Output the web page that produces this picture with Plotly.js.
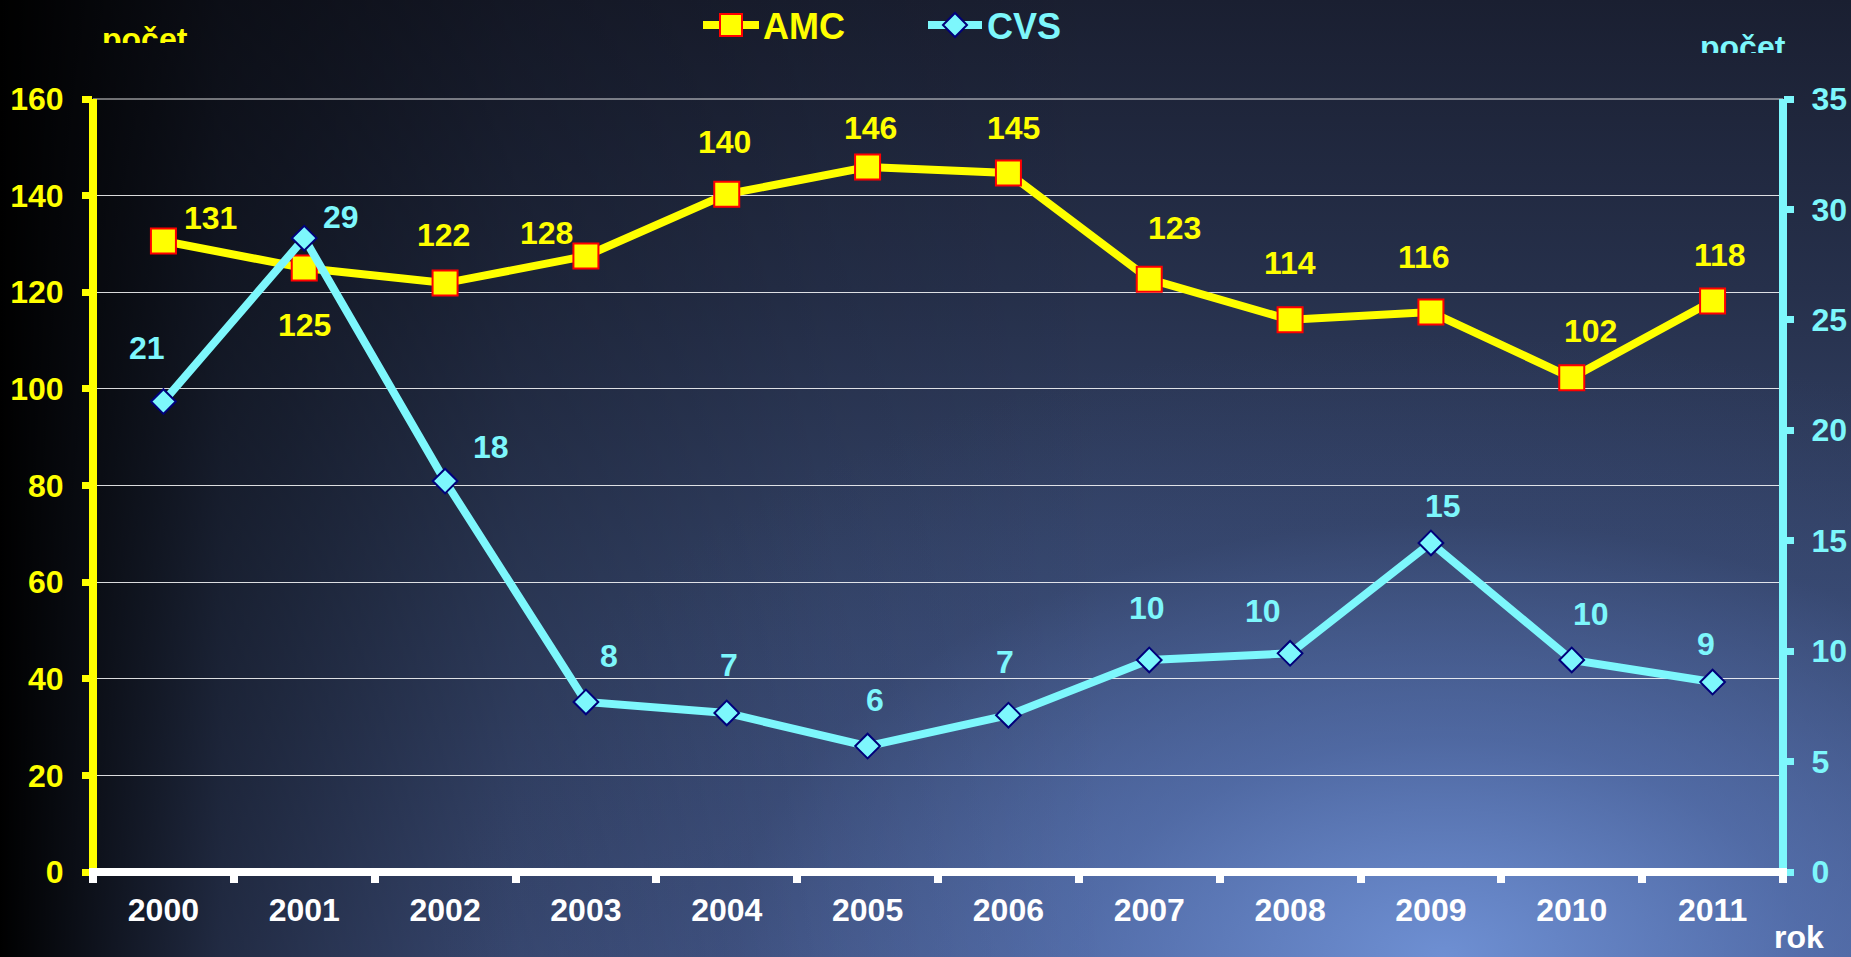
<!DOCTYPE html>
<html>
<head>
<meta charset="utf-8">
<script src="https://cdn.plot.ly/plotly-3.0.1.min.js"></script>
<style>
  html, body { margin: 0; padding: 0; width: 1851px; height: 957px; overflow: hidden; }
  .bg {
    background-image:
      linear-gradient(to right, rgba(0,0,0,1) 0%, rgba(0,0,0,0.55) 12%, rgba(0,0,0,0.25) 28%, rgba(0,0,0,0.08) 45%, rgba(0,0,0,0) 60%),
      radial-gradient(ellipse 55% 65% at 78% 100%, rgba(112,146,214,0.95) 0%, rgba(90,120,185,0.6) 35%, rgba(60,80,130,0.2) 70%, rgba(0,0,0,0) 100%),
      linear-gradient(to bottom, #1a1f31 0%, #26304b 30%, #36466c 60%, #4a5f95 100%);
    background-attachment: fixed;
    background-repeat: no-repeat;
    background-size: 1851px 957px;
  }
  #chart { position: absolute; left: 0; top: 0; width: 1851px; height: 957px; }
  .mask { position: absolute; z-index: 10; }
</style>
</head>
<body class="bg">
<div id="chart"></div>
<div class="mask bg" style="left:95px; top:43px; width:110px; height:30px;"></div>
<div class="mask bg" style="left:1695px; top:53px; width:100px; height:30px;"></div>
<script>
// ---- data ----
const years = ['2000','2001','2002','2003','2004','2005','2006','2007','2008','2009','2010','2011'];
const amcValues = [130.6, 125.0, 121.9, 127.5, 140.3, 145.9, 144.7, 122.7, 114.3, 115.9, 102.3, 118.2];
const cvsValues = [21.3, 28.7, 17.7, 7.7, 7.2, 5.7, 7.1, 9.6, 9.9, 14.9, 9.6, 8.6];
const leftTickVals = [0, 20, 40, 60, 80, 100, 120, 140, 160];
const rightTickVals = [0, 5, 10, 15, 20, 25, 30, 35];
const seriesNames = ['AMC', 'CVS'];
const leftAxisTitle = 'počet';
const rightAxisTitle = 'počet';
const xAxisTitle = 'rok';

// label offsets in pixels (dx right, dy down) relative to each marker
const amcLabelDx = [47, 0, -2, -39, -2, 3, 5, 25, 0, -7, 19, 7];
const amcLabelDy = [-23, 57, -48, -23, -52, -39, -45, -51, -57, -55, -47, -46];
const cvsLabelDx = [-16, 37, 46, 23, 2, 7, -3, -2, -27, 12, 19, -7];
const cvsLabelDy = [-54, -21, -34, -46, -48, -46, -53, -52, -42, -37, -46, -38];

// ---- geometry / styles ----
const W = 1851, H = 957;
const M = { l: 93, r: 68, t: 99, b: 85 };
const PW = W - M.l - M.r, PH = H - M.t - M.b;
const fx = (px) => (px - M.l) / PW;          // page px -> paper x
const fy = (py) => (M.t + PH - py) / PH;     // page px -> paper y

const FONT = 'Liberation Sans, Arial, Helvetica, sans-serif';
const YELLOW = '#ffff00';
const CYAN = '#7df7fc';
const WHITE = '#ffffff';
const RED = '#ff0000';
const NAVY = '#00007a';

const traces = [
  {
    x: years, y: amcValues, name: seriesNames[0],
    type: 'scatter', mode: 'lines+markers', xaxis: 'x', yaxis: 'y',
    line: { color: YELLOW, width: 8 },
    marker: { symbol: 'square', size: 25, color: YELLOW, line: { color: RED, width: 2 } },
    hoverinfo: 'skip', showlegend: false
  },
  {
    x: years, y: cvsValues, name: seriesNames[1],
    type: 'scatter', mode: 'lines+markers', xaxis: 'x', yaxis: 'y2',
    line: { color: CYAN, width: 8 },
    marker: { symbol: 'diamond', size: 19, color: CYAN, line: { color: NAVY, width: 2 } },
    hoverinfo: 'skip', showlegend: false
  }
];

const annotations = [];
years.forEach((yr, i) => {
  annotations.push({
    x: i, y: amcValues[i], xref: 'x', yref: 'y', text: String(Math.round(amcValues[i])),
    showarrow: false, xanchor: 'center', yanchor: 'middle',
    xshift: amcLabelDx[i], yshift: -amcLabelDy[i],
    font: { family: FONT, size: 32, color: YELLOW, weight: 'bold' }
  });
  annotations.push({
    x: i, y: cvsValues[i], xref: 'x', yref: 'y2', text: String(Math.round(cvsValues[i])),
    showarrow: false, xanchor: 'center', yanchor: 'middle',
    xshift: cvsLabelDx[i], yshift: -cvsLabelDy[i],
    font: { family: FONT, size: 32, color: CYAN, weight: 'bold' }
  });
});
annotations.push({
  text: leftAxisTitle, xref: 'paper', yref: 'paper', x: fx(145), y: fy(39),
  xanchor: 'center', yanchor: 'middle', showarrow: false,
  font: { family: FONT, size: 32, color: YELLOW, weight: 'bold' }
});
annotations.push({
  text: rightAxisTitle, xref: 'paper', yref: 'paper', x: fx(1743), y: fy(47),
  xanchor: 'center', yanchor: 'middle', showarrow: false,
  font: { family: FONT, size: 32, color: CYAN, weight: 'bold' }
});
annotations.push({
  text: xAxisTitle, xref: 'paper', yref: 'paper', x: fx(1799), y: fy(937),
  xanchor: 'center', yanchor: 'middle', showarrow: false, borderpad: 0,
  font: { family: FONT, size: 32, color: WHITE, weight: 'bold' }
});
// legend texts
annotations.push({
  text: seriesNames[0], xref: 'paper', yref: 'paper', x: fx(761), y: fy(26),
  xanchor: 'left', yanchor: 'middle', showarrow: false,
  font: { family: FONT, size: 36, color: YELLOW, weight: 'bold' }
});
annotations.push({
  text: seriesNames[1], xref: 'paper', yref: 'paper', x: fx(985), y: fy(26),
  xanchor: 'left', yanchor: 'middle', showarrow: false,
  font: { family: FONT, size: 36, color: CYAN, weight: 'bold' }
});

const tickFont = (c) => ({ family: FONT, size: 32, color: c, weight: 'bold' });

const P = (x, y) => fx(x) + ',' + fy(y);
const shapes = [
  // gridline at the top of the range (Plotly drops gridlines at the plot edge)
  { type: 'line', xref: 'paper', yref: 'paper', x0: 0, x1: 1, y0: 1, y1: 1, line: { color: 'rgba(255,255,255,0.85)', width: 1 } },
  // axis lines
  { type: 'line', xref: 'paper', yref: 'paper', x0: 0, x1: 0, y0: 0, y1: 1, line: { color: YELLOW, width: 8 } },
  { type: 'line', xref: 'paper', yref: 'paper', x0: 1, x1: 1, y0: 0, y1: 1, line: { color: CYAN, width: 8 } },
  { type: 'line', xref: 'paper', yref: 'paper', x0: fx(89), x1: fx(1787), y0: 0, y1: 0, line: { color: WHITE, width: 8 } },
  // legend symbols
  { type: 'line', xref: 'paper', yref: 'paper', x0: fx(703), x1: fx(759), y0: fy(25), y1: fy(25), line: { color: YELLOW, width: 8 } },
  { type: 'rect', xref: 'paper', yref: 'paper', x0: fx(720), x1: fx(742), y0: fy(14), y1: fy(36), fillcolor: YELLOW, line: { color: RED, width: 2 } },
  { type: 'line', xref: 'paper', yref: 'paper', x0: fx(928), x1: fx(982), y0: fy(25), y1: fy(25), line: { color: CYAN, width: 8 } },
  { type: 'path', xref: 'paper', yref: 'paper', path: 'M' + P(943, 25) + 'L' + P(955, 13) + 'L' + P(967, 25) + 'L' + P(955, 37) + 'Z',
    fillcolor: CYAN, line: { color: NAVY, width: 2 } }
];

const layout = {
  width: W, height: H,
  margin: { l: M.l, r: M.r, t: M.t, b: M.b, pad: 0 },
  paper_bgcolor: 'rgba(0,0,0,0)',
  plot_bgcolor: 'rgba(0,0,0,0)',
  showlegend: false,
  xaxis: {
    type: 'category', categoryarray: years, range: [-0.5, 11.5],
    tickson: 'boundaries', ticks: 'outside', ticklen: 10, tickwidth: 8, tickcolor: WHITE,
    showline: false, showgrid: false, zeroline: false, ticklabelstandoff: 16,
    tickfont: tickFont(WHITE)
  },
  xaxis2: {
    overlaying: 'x', anchor: 'y', range: [-0.5, 11.5], tick0: -0.5, dtick: 1,
    ticks: 'inside', ticklen: 10, tickwidth: 8, tickcolor: WHITE,
    showticklabels: false, showline: false, showgrid: false, zeroline: false
  },
  yaxis: {
    range: [0, 160], tickvals: leftTickVals, ticks: 'outside', ticklen: 10, tickwidth: 7, tickcolor: YELLOW,
    showgrid: true, gridcolor: 'rgba(255,255,255,0.85)', gridwidth: 1,
    showline: false, zeroline: false, tickfont: tickFont(YELLOW), ticklabelstandoff: 12
  },
  yaxis3: {
    overlaying: 'y', anchor: 'x', range: [0, 160], tickvals: leftTickVals,
    ticks: 'inside', ticklen: 10, tickwidth: 7, tickcolor: YELLOW,
    showticklabels: false, showgrid: false, showline: false, zeroline: false
  },
  yaxis2: {
    overlaying: 'y', side: 'right', anchor: 'x', range: [0, 35], tickvals: rightTickVals,
    ticks: 'outside', ticklen: 10, tickwidth: 7, tickcolor: CYAN,
    showgrid: false, showline: false, zeroline: false, tickfont: tickFont(CYAN), ticklabelstandoff: 11
  },
  yaxis4: {
    overlaying: 'y', side: 'right', anchor: 'x', range: [0, 35], tickvals: rightTickVals,
    ticks: 'inside', ticklen: 10, tickwidth: 7, tickcolor: CYAN,
    showticklabels: false, showgrid: false, showline: false, zeroline: false
  },
  shapes: shapes,
  annotations: annotations
};

Plotly.newPlot('chart', traces, layout, { displayModeBar: false, staticPlot: true });
</script>
</body>
</html>
